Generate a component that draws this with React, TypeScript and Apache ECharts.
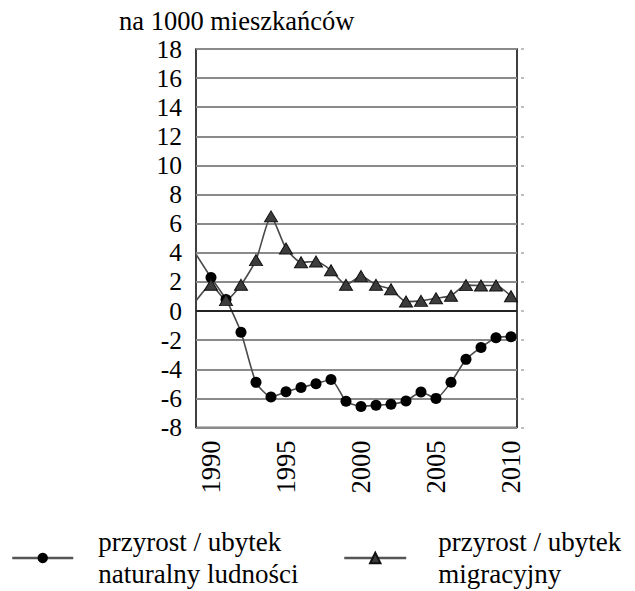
import React, { useEffect, useRef } from "react";
import * as echarts from "echarts";

const years = [1989, 1990, 1991, 1992, 1993, 1994, 1995, 1996, 1997, 1998, 1999, 2000, 2001, 2002, 2003, 2004, 2005, 2006, 2007, 2008, 2009, 2010];
const naturalValues = [3.9, 2.3, 0.8, -1.45, -4.9, -5.9, -5.55, -5.25, -5.0, -4.7, -6.2, -6.55, -6.47, -6.4, -6.18, -5.56, -6.0, -4.89, -3.32, -2.5, -1.83, -1.76];
const migrationValues = [0.7, 1.8, 0.75, 1.8, 3.5, 6.5, 4.3, 3.35, 3.4, 2.8, 1.8, 2.4, 1.8, 1.5, 0.65, 0.7, 0.88, 1.05, 1.78, 1.75, 1.75, 1.02];
const xLabelYears = [1990, 1995, 2000, 2005, 2010];
const seriesNames = ["przyrost / ubytek\nnaturalny ludności", "przyrost / ubytek\nmigracyjny"];
const titleText = "na 1000 mieszkańców";
const yMin = -8;
const yMax = 18;
const yStep = 2;

const FONT = "Liberation Serif";

export default function App() {
  const ref = useRef<HTMLDivElement>(null);
  useEffect(() => {
    if (!ref.current) return;
    const chart = echarts.init(ref.current, undefined, { renderer: "svg" });
    const firstYear = years[0];
    const mk = (vals: number[]) =>
      vals.map((v, i) =>
        years[i] === firstYear
          ? { value: [years[i], v], symbol: "none" }
          : { value: [years[i], v] }
      );
    chart.setOption({
      animation: false,
      backgroundColor: "#fff",
      textStyle: { fontFamily: FONT },
      title: {
        text: titleText,
        left: 114,
        top: 3,
        textStyle: { fontSize: 26.5, lineHeight: 26, fontFamily: FONT, fontWeight: "normal", color: "#000" },
      },
      grid: {
        left: 196,
        top: 49,
        right: 118,
        bottom: 163.5,
        show: true,
        borderColor: "#000",
        borderWidth: 1.5,
        backgroundColor: "transparent",
        containLabel: false,
        outerBoundsMode: "none",
      },
      legend: [
        {
          data: [seriesNames[0]],
          left: 11,
          top: 526,
          padding: 0,
          itemWidth: 61,
          itemHeight: 13,
          lineStyle: { width: 2.5, color: "#555" },
          textStyle: { fontSize: 27, lineHeight: 32, fontFamily: FONT, color: "#000", padding: [0, 0, 0, 20] },
        },
        {
          data: [seriesNames[1]],
          left: 343,
          top: 526,
          padding: 0,
          itemWidth: 62,
          itemHeight: 13,
          lineStyle: { width: 2.5, color: "#555" },
          textStyle: { fontSize: 27, lineHeight: 32, fontFamily: FONT, color: "#000", padding: [0, 0, 0, 27] },
        },
      ],
      xAxis: {
        type: "value",
        min: years[0],
        max: 2010.4,
        interval: 1,
        axisLine: { show: false },
        axisTick: { show: false },
        splitLine: { show: false },
        axisLabel: {
          rotate: 90,
          margin: 13,
          fontSize: 26.5,
          fontFamily: FONT,
          color: "#000",
          showMinLabel: true,
          showMaxLabel: true,
          formatter: (v: number) => (xLabelYears.indexOf(v) >= 0 ? String(v) : ""),
        },
      },
      yAxis: [
        {
          type: "value",
          min: yMin,
          max: yMax,
          interval: yStep,
          axisLine: { show: false },
          axisTick: { show: false },
          axisLabel: { fontSize: 25.5, lineHeight: 24, fontFamily: FONT, color: "#000", margin: 14 },
          splitLine: { show: true, lineStyle: { color: "#8a8a8a", width: 1.8 } },
        },
        {
          type: "value",
          position: "right",
          min: yMin,
          max: yMax,
          interval: yStep,
          offset: 4,
          axisLine: { show: false },
          axisTick: { show: true, length: 3, lineStyle: { color: "#aaa", width: 1.5 } },
          axisLabel: { show: false },
          splitLine: { show: false },
        },
      ],
      series: [
        {
          name: seriesNames[0],
          type: "line",
          data: mk(naturalValues),
          smooth: 0.2,
          symbol: "circle",
          symbolSize: 11,
          lineStyle: { color: "#4a4a4a", width: 1.6 },
          itemStyle: { color: "#000" },
          markLine: {
            silent: true,
            symbol: ["none", "none"],
            label: { show: false },
            lineStyle: { color: "#000", width: 1.5, type: "solid" },
            data: [{ yAxis: 0 }],
          },
        },
        {
          name: seriesNames[1],
          type: "line",
          data: mk(migrationValues),
          smooth: 0.2,
          symbol: "triangle",
          symbolSize: [13, 11],
          lineStyle: { color: "#4a4a4a", width: 1.6 },
          itemStyle: { color: "#3c3c3c", borderColor: "#111", borderWidth: 1 },
        },
      ],
    });
    return () => chart.dispose();
  }, []);
  return (
    <div
      ref={ref}
      style={{ position: "absolute", left: 0, top: 0, width: 635, height: 591 }}
    />
  );
}
